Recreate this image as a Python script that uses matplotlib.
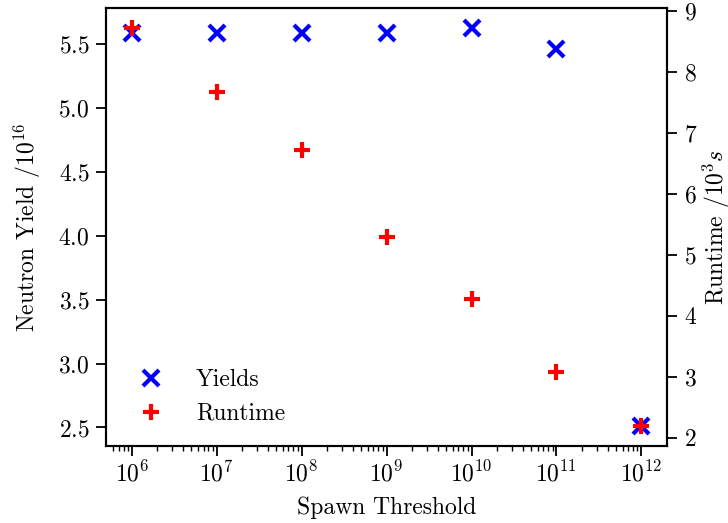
import matplotlib
matplotlib.use("Agg")
import matplotlib.pyplot as plt

plt.rcParams['font.family'] = 'serif'
plt.rcParams['font.serif'] = ['cmr10']
plt.rcParams['mathtext.fontset'] = 'cm'
plt.rcParams['axes.formatter.use_mathtext'] = True
plt.rcParams['axes.unicode_minus'] = False
plt.rcParams['font.size'] = 17
plt.rcParams['xtick.major.size'] = 7
plt.rcParams['ytick.major.size'] = 7
plt.rcParams['xtick.minor.size'] = 3.5
plt.rcParams['xtick.major.width'] = 1.3
plt.rcParams['ytick.major.width'] = 1.3
plt.rcParams['xtick.minor.width'] = 1.0
plt.rcParams['ytick.major.pad'] = 5

thresholds = [1e6, 1e7, 1e8, 1e9, 1e10, 1e11, 1e12]
yields = [5.59, 5.59, 5.59, 5.59, 5.63, 5.46, 2.51]
runtime = [8.72, 7.67, 6.71, 5.29, 4.28, 3.08, 2.19]

fig = plt.figure(figsize=(7.28, 5.23), dpi=100)
ax = fig.add_axes([0.146, 0.147, 0.77, 0.838])
ax2 = ax.twinx()

l1, = ax.plot(thresholds, yields, 'x', color='blue', ms=11, mew=3, label='Yields')
l2, = ax2.plot(thresholds, runtime, '+', color='red', ms=11, mew=3, label='Runtime')
ax.set_xscale('log')

ax.set_xlabel('Spawn Threshold', labelpad=7)
ax.set_ylabel(r'Neutron Yield /$10^{16}$', labelpad=11)
ax2.set_ylabel(r'Runtime /$10^3 s$', labelpad=3)

for spine in list(ax.spines.values()) + list(ax2.spines.values()):
    spine.set_linewidth(1.5)

ax.legend([l1, l2], ['Yields', 'Runtime'], loc='lower left', frameon=False,
          bbox_to_anchor=(0.0, 0.0), handletextpad=0.9, labelspacing=0.5)

fig.savefig('out.png', dpi=100)
